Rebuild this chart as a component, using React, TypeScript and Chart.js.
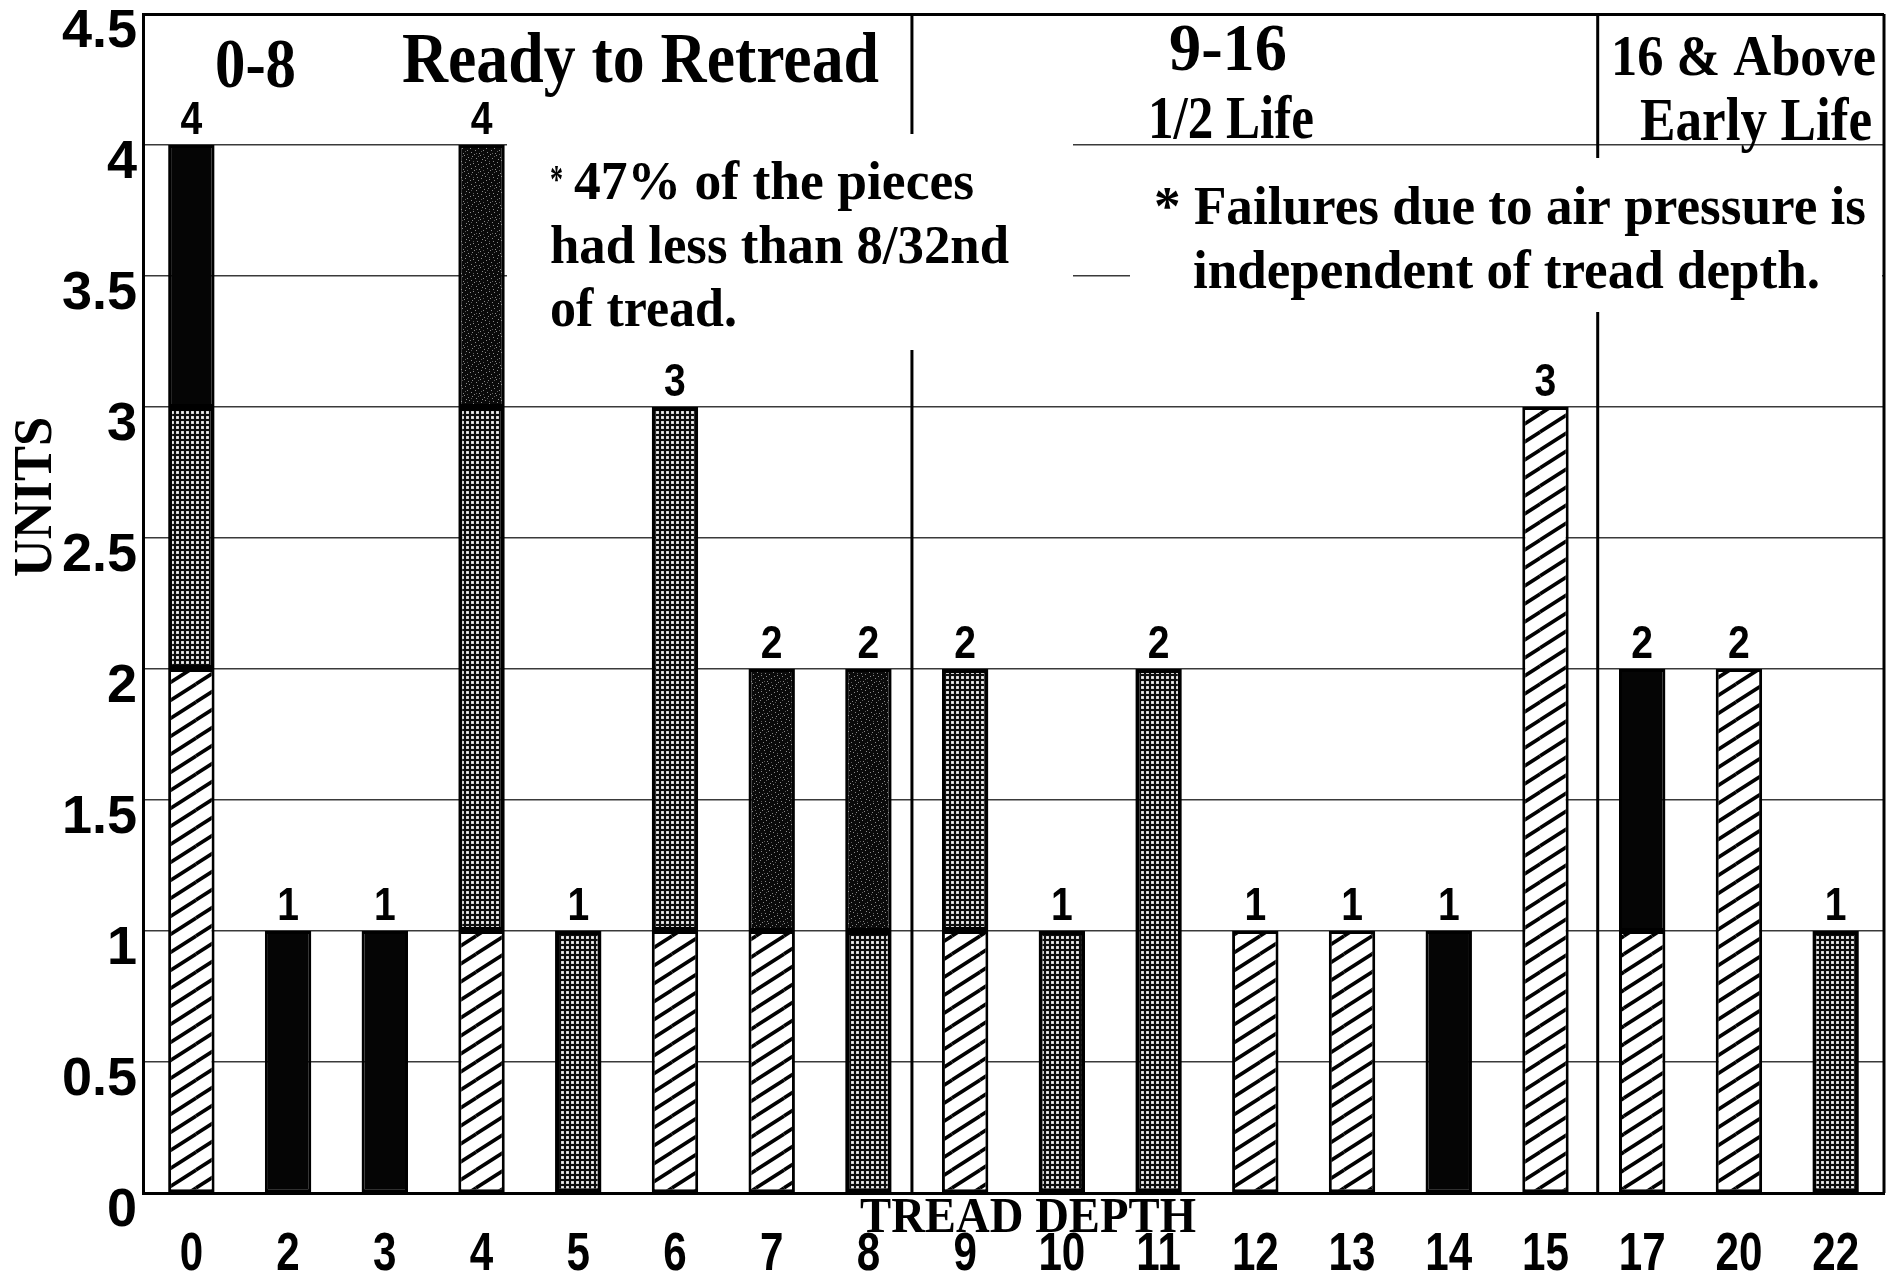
import React, { useEffect, useRef } from 'react';
import { Chart, registerables } from 'chart.js';

Chart.register(...registerables);

// ---- data ----
const categories = ['0', '2', '3', '4', '5', '6', '7', '8', '9', '10', '11', '12', '13', '14', '15', '17', '20', '22'];
const hatchedUnits = [2, 0, 0, 1, 0, 1, 1, 0, 1, 0, 0, 1, 1, 0, 3, 1, 2, 0];
const dottedUnits = [1, 0, 0, 2, 1, 2, 0, 1, 1, 1, 2, 0, 0, 0, 0, 0, 0, 1];
const speckledUnits = [0, 0, 0, 1, 0, 0, 1, 1, 0, 0, 0, 0, 0, 0, 0, 0, 0, 0];
const blackUnits = [1, 1, 1, 0, 0, 0, 0, 0, 0, 0, 0, 0, 0, 1, 0, 1, 0, 0];
const yTickValues = [0, 0.5, 1, 1.5, 2, 2.5, 3, 3.5, 4, 4.5];
const yTickLabels = ['0', '0.5', '1', '1.5', '2', '2.5', '3', '3.5', '4', '4.5'];
const yAxisTitle = 'UNITS';
const xAxisTitle = 'TREAD DEPTH';

const SERIF = '"Liberation Serif", "Times New Roman", serif';
const SANS = '"Liberation Sans", Arial, sans-serif';

function makeHatch(): CanvasPattern | string {
  const W = 28;
  const H = 18;
  const c = document.createElement('canvas');
  c.width = W;
  c.height = H;
  const g = c.getContext('2d');
  if (!g) return '#fff';
  g.fillStyle = '#fff';
  g.fillRect(0, 0, W, H);
  g.strokeStyle = '#000';
  g.lineWidth = 3.6;
  for (const dx of [-W, 0, W]) {
    for (const dy of [-H, 0, H]) {
      g.beginPath();
      g.moveTo(dx, H + dy);
      g.lineTo(dx + W, dy);
      g.stroke();
    }
  }
  return g.createPattern(c, 'repeat') || '#fff';
}

function makeDots(): CanvasPattern | string {
  const s = 5;
  const c = document.createElement('canvas');
  c.width = s;
  c.height = s;
  const g = c.getContext('2d');
  if (!g) return '#555';
  g.fillStyle = '#0d0d0d';
  g.fillRect(0, 0, s, s);
  g.fillStyle = '#bdbdbd';
  g.fillRect(1, 1, 3, 3);
  g.fillStyle = '#f4f4f4';
  g.fillRect(1.5, 1.5, 2, 2);
  return g.createPattern(c, 'repeat') || '#555';
}

function makeSpeckle(): CanvasPattern | string {
  const s = 16;
  const c = document.createElement('canvas');
  c.width = s;
  c.height = s;
  const g = c.getContext('2d');
  if (!g) return '#111';
  g.fillStyle = '#0a0a0a';
  g.fillRect(0, 0, s, s);
  g.fillStyle = '#8a8a8a';
  const specks = [
    [1, 2], [5, 0], [9, 3], [13, 1], [3, 6], [7, 8], [11, 6], [15, 9],
    [0, 11], [4, 13], [8, 12], [12, 14], [14, 4], [6, 4], [10, 10], [2, 15],
  ];
  for (const [x, y] of specks) g.fillRect(x, y, 1, 1);
  g.fillStyle = '#5a5a5a';
  const specks2 = [[3, 10], [12, 9], [7, 14], [14, 12], [1, 7], [9, 1]];
  for (const [x, y] of specks2) g.fillRect(x, y, 1, 1);
  return g.createPattern(c, 'repeat') || '#111';
}

function fitText(
  ctx: CanvasRenderingContext2D,
  text: string,
  left: number,
  baseline: number,
  width: number,
  size: number,
  family: string = SERIF,
  weight: string = 'bold'
) {
  ctx.save();
  ctx.font = `${weight} ${size}px ${family}`;
  const w = ctx.measureText(text).width || 1;
  ctx.translate(left, baseline);
  ctx.scale(width / w, 1);
  ctx.textAlign = 'left';
  ctx.textBaseline = 'alphabetic';
  ctx.fillStyle = '#000';
  ctx.fillText(text, 0, 0);
  ctx.restore();
}

function centerText(
  ctx: CanvasRenderingContext2D,
  text: string,
  cx: number,
  baseline: number,
  size: number,
  sx: number,
  family: string = SANS
) {
  ctx.save();
  ctx.font = `bold ${size}px ${family}`;
  ctx.translate(cx, baseline);
  ctx.scale(sx, 1);
  ctx.textAlign = 'center';
  ctx.textBaseline = 'alphabetic';
  ctx.fillStyle = '#000';
  ctx.fillText(text, 0, 0);
  ctx.restore();
}

function line(ctx: CanvasRenderingContext2D, x1: number, y1: number, x2: number, y2: number, w: number) {
  ctx.save();
  ctx.strokeStyle = '#000';
  ctx.lineWidth = w;
  ctx.beginPath();
  ctx.moveTo(x1, y1);
  ctx.lineTo(x2, y2);
  ctx.stroke();
  ctx.restore();
}

const annotationPlugin = {
  id: 'treadAnnotations',
  beforeDatasetsDraw(chart: any) {
    const ctx: CanvasRenderingContext2D = chart.ctx;
    const area = chart.chartArea;
    ctx.save();
    ctx.fillStyle = '#fff';
    // white boxes behind the notes (cover gridlines)
    ctx.fillRect(507, 137, 566, 213);
    ctx.fillRect(1130, 163, area.right - 1130 - 2, 149);
    ctx.restore();
  },
  afterDraw(chart: any) {
    const ctx: CanvasRenderingContext2D = chart.ctx;
    const area = chart.chartArea;
    const xs = chart.scales.x;
    const ys = chart.scales.y;
    const step = xs.getPixelForValue(1) - xs.getPixelForValue(0);

    // right border
    line(ctx, area.right, area.top, area.right, area.bottom, 3);

    // section dividers
    const d1 = xs.getPixelForValue(7) + 0.45 * step;
    line(ctx, d1, area.top, d1, 134, 3);
    line(ctx, d1, 350, d1, area.bottom, 3);
    const d2 = xs.getPixelForValue(14) + 0.54 * step;
    line(ctx, d2, area.top, d2, 158, 3);
    line(ctx, d2, 312, d2, area.bottom, 3);

    // header texts
    fitText(ctx, '0-8', 215, 87, 81, 70);
    fitText(ctx, 'Ready to Retread', 402, 82, 477, 72);
    fitText(ctx, '9-16', 1169, 70, 118, 68);
    fitText(ctx, '1/2 Life', 1148, 138, 166, 62);
    fitText(ctx, '16 & Above', 1611, 75, 265, 58);
    fitText(ctx, 'Early Life', 1640, 140, 232, 62);

    // notes
    fitText(ctx, '*', 550, 192, 13, 40);
    fitText(ctx, '47% of the pieces', 574, 199, 400, 54);
    fitText(ctx, 'had less than 8/32nd', 550, 263, 459, 54);
    fitText(ctx, 'of tread.', 550, 326, 187, 54);
    fitText(ctx, '* Failures due to air pressure is', 1154, 224, 712, 55);
    fitText(ctx, 'independent of tread depth.', 1193, 288, 627, 55);

    // axis titles
    fitText(ctx, xAxisTitle, 860, 1232, 336, 50);
    ctx.save();
    ctx.translate(51, 497);
    ctx.rotate(-Math.PI / 2);
    ctx.font = `bold 54px ${SERIF}`;
    const uw = ctx.measureText(yAxisTitle).width || 1;
    ctx.scale(160 / uw, 1);
    ctx.textAlign = 'center';
    ctx.textBaseline = 'alphabetic';
    ctx.fillStyle = '#000';
    ctx.fillText(yAxisTitle, 0, 0);
    ctx.restore();

    // y tick labels
    ctx.save();
    ctx.font = `bold 54px ${SANS}`;
    ctx.textAlign = 'right';
    ctx.textBaseline = 'alphabetic';
    ctx.fillStyle = '#000';
    yTickValues.forEach((v, i) => {
      const y = ys.getPixelForValue(v);
      ctx.fillText(yTickLabels[i], 137, y + 33);
    });
    ctx.restore();

    // x tick labels
    categories.forEach((c, i) => {
      centerText(ctx, c, xs.getPixelForValue(i), 1270, 54, 0.78);
    });

    // data labels (totals)
    categories.forEach((_, i) => {
      const total = hatchedUnits[i] + dottedUnits[i] + speckledUnits[i] + blackUnits[i];
      const y = ys.getPixelForValue(total);
      centerText(ctx, String(total), xs.getPixelForValue(i), y - 11, 46, 0.85);
    });
  },
};

export default function App() {
  const ref = useRef<HTMLCanvasElement | null>(null);

  useEffect(() => {
    const canvas = ref.current;
    if (!canvas) return;
    const hatch = makeHatch();
    const dots = makeDots();
    const speckle = makeSpeckle();
    const toData = (arr: number[]) => arr.map((v) => (v ? v : null));
    const common = {
      borderColor: '#000',
      borderSkipped: false as const,
      barPercentage: 0.48,
      categoryPercentage: 1,
    };
    const chart = new Chart(canvas, {
      type: 'bar',
      data: {
        labels: categories,
        datasets: [
          { label: 'hatched', data: toData(hatchedUnits), backgroundColor: hatch as any, borderWidth: 3, ...common },
          { label: 'dotted', data: toData(dottedUnits), backgroundColor: dots as any, borderWidth: 4, ...common },
          { label: 'speckled', data: toData(speckledUnits), backgroundColor: speckle as any, borderWidth: 3, ...common },
          { label: 'black', data: toData(blackUnits), backgroundColor: '#050505', borderWidth: 3, ...common },
        ],
      },
      options: {
        animation: false,
        responsive: false,
        devicePixelRatio: 1,
        layout: { padding: { left: 143, right: 10, top: 14, bottom: 85 } },
        plugins: {
          legend: { display: false },
          tooltip: { enabled: false },
          title: { display: false },
        },
        scales: {
          x: {
            type: 'category',
            stacked: true,
            offset: true,
            grid: { display: false },
            border: { display: true, color: '#000', width: 3 },
            ticks: { display: false },
            afterFit: (s: any) => {
              s.height = 0;
            },
          },
          y: {
            stacked: true,
            min: 0,
            max: 4.5,
            ticks: { display: false, stepSize: 0.5 },
            grid: {
              drawTicks: false,
              color: (c: any) => (c.tick && c.tick.value === 4.5 ? '#000' : '#3a3a3a'),
              lineWidth: (c: any) => (c.tick && c.tick.value === 4.5 ? 3 : 1.5),
            },
            border: { display: true, color: '#000', width: 3 },
            afterFit: (s: any) => {
              s.width = 0;
            },
          },
        },
      } as any,
      plugins: [annotationPlugin],
    });
    return () => chart.destroy();
  }, []);

  return (
    <div style={{ position: 'fixed', left: 0, top: 0, width: 1894, height: 1278, background: '#fff' }}>
      <canvas ref={ref} width={1894} height={1278} style={{ display: 'block', width: 1894, height: 1278 }} />
    </div>
  );
}
